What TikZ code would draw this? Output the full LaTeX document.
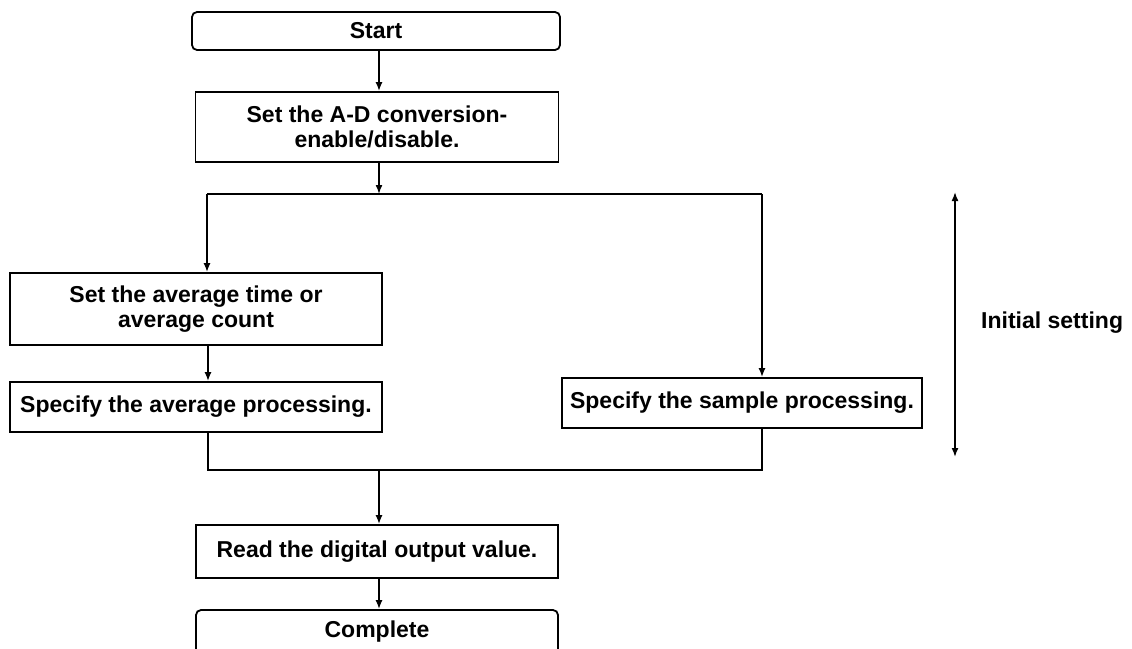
\documentclass[tikz,border=0pt]{standalone}
\usepackage{fontspec}
\setmainfont{Liberation Sans}[BoldFont={Liberation Sans Bold}]
\usetikzlibrary{arrows.meta}
\begin{document}
\begin{tikzpicture}[x=1pt,y=-1pt,
  box/.style={draw,line width=1.8pt,inner sep=0pt,align=center,
    font=\fontsize{23}{24.5}\selectfont\bfseries},
  term/.style={box,rounded corners=5pt},
  conn/.style={line width=1.6pt},
  tip/.tip={Latex[length=9pt,width=7pt]},
  arr/.style={conn,-tip}]
\useasboundingbox (0,0) rectangle (1132,648);
\node[term,minimum width=368pt,minimum height=38pt] (start) at (376,31) {Start};
\node[box,minimum width=363pt,minimum height=70pt] (setad) at (377,127) {Set the A-D conversion-\\enable/disable.};
\node[box,minimum width=372pt,minimum height=72pt] (avgtime) at (196,309) {Set the average time or\\average count};
\node[box,minimum width=372pt,minimum height=50pt] (avgproc) at (196,407) {Specify the average processing.};
\node[box,minimum width=360pt,minimum height=50pt] (sample) at (742,403) {Specify the sample processing.};
\node[box,minimum width=362pt,minimum height=53pt] (read) at (377,551.5) {Read the digital output value.};
\node[term,minimum width=362pt,minimum height=44pt] (complete) at (377,632) {Complete};
\coordinate (split) at (379,194);
\coordinate (bl) at (207,194);
\coordinate (br) at (762,194);
\coordinate (ml) at (208,470);
\coordinate (mr) at (762,470);
\coordinate (mm) at (379,470);
\coordinate (it) at (955,192);
\coordinate (ib) at (955,457);
\draw[arr] (start.south -| split) -- (setad.north -| split);
\draw[arr] (setad.south -| split) -- (split);
\draw[conn] (bl) -- (br);
\draw[arr] (bl) -- (bl |- avgtime.north);
\draw[arr] (avgtime.south -| ml) -- (avgproc.north -| ml);
\draw[arr] (br) -- (br |- sample.north);
\draw[conn] (avgproc.south -| ml) -- (ml) -- (mr) -- (sample.south -| mr);
\draw[arr] (mm) -- (read.north -| mm);
\draw[arr] (read.south -| mm) -- (complete.north -| mm);
\draw[conn,tip-tip] (it) -- (ib);
\node[font=\fontsize{23}{24}\selectfont\bfseries,anchor=west,inner sep=0pt] (lbl) at (981,323) {Initial setting};
\end{tikzpicture}
\end{document}
